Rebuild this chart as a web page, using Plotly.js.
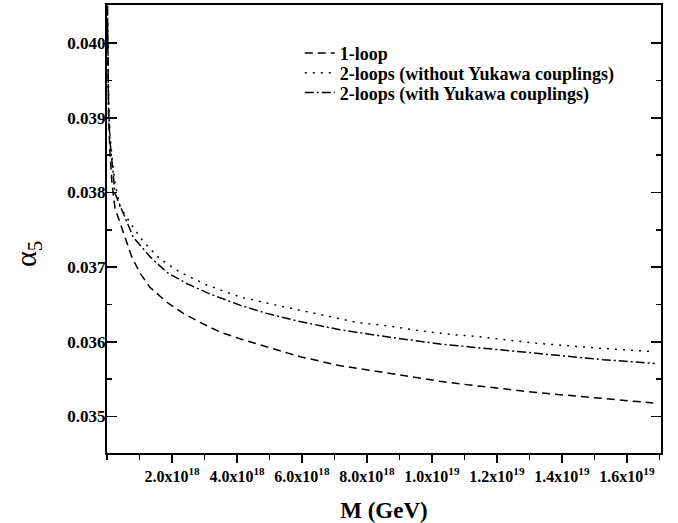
<!DOCTYPE html>
<html>
<head>
<meta charset="utf-8">
<script src="https://cdn.plot.ly/plotly-3.0.1.min.js"></script>
<style>html,body{margin:0;padding:0;background:#fff;}#chart{width:678px;height:523px;}</style>
</head>
<body>
<div id="chart"></div>
<script>
// M (GeV) values
var mOneLoop = [1.2e16, 2e16, 5e16, 9e16, 1.5e17, 2.46e17, 4.5e17, 7.6e17, 1.015e18, 1.32e18, 1.84e18, 2.35e18, 2.86e18, 3.48e18, 4.09e18, 5.12e18, 5.94e18, 7.17e18, 8.71e18, 1.025e19, 1.117e19, 1.322e19, 1.527e19, 1.681e19];
var aOneLoop = [0.0405, 0.0400, 0.0390, 0.03855, 0.03814, 0.03779, 0.03754, 0.03714, 0.03692, 0.03673, 0.03653, 0.03638, 0.03626, 0.03613, 0.03604, 0.03591, 0.03580, 0.03568, 0.03557, 0.03547, 0.03542, 0.03532, 0.03524, 0.03518];

var mNoYuk = [1.2e16, 2e16, 5e16, 9e16, 1.5e17, 2.5e17, 4.0e17, 7.6e17, 1.12e18, 1.63e18, 2.25e18, 3.07e18, 4.09e18, 5.32e18, 6.66e18, 7.68e18, 8.71e18, 9.73e18, 1.076e19, 1.117e19, 1.322e19, 1.527e19, 1.676e19];
var aNoYuk = [0.0405, 0.0401, 0.0392, 0.0388, 0.03848, 0.03812, 0.03781, 0.03756, 0.03734, 0.03711, 0.03693, 0.03676, 0.03660, 0.03648, 0.03635, 0.03626, 0.03621, 0.03614, 0.03609, 0.03608, 0.03598, 0.03591, 0.03587];

var mYuk = [1.2e16, 2e16, 5e16, 9e16, 1.5e17, 2.46e17, 5.0e17, 8.1e17, 1.32e18, 1.84e18, 2.45e18, 3.17e18, 4.09e18, 4.91e18, 5.84e18, 7.17e18, 8.71e18, 1.025e19, 1.117e19, 1.322e19, 1.527e19, 1.686e19];
var aYuk = [0.0405, 0.04005, 0.0391, 0.0387, 0.03838, 0.03799, 0.03772, 0.03740, 0.03714, 0.03693, 0.03678, 0.03664, 0.03649, 0.03638, 0.03628, 0.03616, 0.03606, 0.03597, 0.03593, 0.03584, 0.03576, 0.03571];

var seriesNames = ["1-loop", "2-loops (without Yukawa couplings)", "2-loops (with Yukawa couplings)"];
var xTickVals = [2e18, 4e18, 6e18, 8e18, 1e19, 1.2e19, 1.4e19, 1.6e19];
var xTickText = ["2.0x10<sup>18</sup>", "4.0x10<sup>18</sup>", "6.0x10<sup>18</sup>", "8.0x10<sup>18</sup>", "1.0x10<sup>19</sup>", "1.2x10<sup>19</sup>", "1.4x10<sup>19</sup>", "1.6x10<sup>19</sup>"];

var FONT = "Liberation Serif, Times New Roman, serif";
var traces = [
  {x: mOneLoop, y: aOneLoop, name: seriesNames[0], mode: "lines", legend: "legend", line: {color: "#000", width: 1.5, dash: "8px,5px"}},
  {x: mNoYuk, y: aNoYuk, name: seriesNames[1], mode: "lines", legend: "legend2", line: {color: "#000", width: 1.5, dash: "2px,6px"}},
  {x: mYuk, y: aYuk, name: seriesNames[2], mode: "lines", legend: "legend3", line: {color: "#000", width: 1.5, dash: "9px,3px,2px,3px"}}
];

function leg(yc) {
  return {x: 0.348, y: yc, xanchor: "left", yanchor: "middle", bgcolor: "rgba(0,0,0,0)",
          font: {family: FONT, size: 18, weight: "bold", color: "#000"}};
}

var xRange = [0, 1.705e19];
var layout = {
  width: 678, height: 523,
  margin: {l: 107, r: 17, t: 5, b: 70},
  paper_bgcolor: "#fff", plot_bgcolor: "#fff",
  showlegend: true,
  legend: leg(0.892),
  legend2: leg(0.848),
  legend3: leg(0.804),
  xaxis: {
    range: xRange, showgrid: false, zeroline: false,
    showline: true, linecolor: "#000", linewidth: 2, mirror: true,
    ticks: "outside", ticklen: 8, tickwidth: 1.5, tickcolor: "#000",
    tickmode: "array", tickvals: xTickVals, ticktext: xTickText,
    tickfont: {family: FONT, size: 16, weight: "bold", color: "#000"},
    minor: {tickmode: "linear", tick0: 0, dtick: 1e18, ticks: "outside", ticklen: 5, tickwidth: 1.5, tickcolor: "#000", showgrid: false},
    title: {text: "M (GeV)", font: {family: FONT, size: 23, weight: "bold", color: "#000"}, standoff: 18}
  },
  xaxis2: {
    range: xRange, overlaying: "x", side: "top", anchor: "y", matches: "x",
    showgrid: false, zeroline: false, showticklabels: false, showline: false,
    ticks: "inside", ticklen: 8, tickwidth: 1.5, tickcolor: "#000",
    tickmode: "array", tickvals: xTickVals,
    minor: {tickmode: "linear", tick0: 0, dtick: 1e18, ticks: "inside", ticklen: 5, tickwidth: 1.5, tickcolor: "#000", showgrid: false}
  },
  yaxis: {
    range: [0.03451, 0.04051], showgrid: false, zeroline: false,
    showline: true, linecolor: "#000", linewidth: 2, mirror: "ticks",
    ticks: "inside", ticklen: 10, tickwidth: 1.5, tickcolor: "#000",
    dtick: 0.001, tick0: 0.035, tickformat: ".3f",
    ticklabelstandoff: -4,
    tickfont: {family: FONT, size: 17, weight: "bold", color: "#000"},
    minor: {dtick: 0.0005, tick0: 0.035, ticks: "inside", ticklen: 5, tickwidth: 1.5, tickcolor: "#000", showgrid: false}
  },
  annotations: [
    {text: "α<sub>5</sub>", xref: "paper", yref: "paper", x: -0.1426, y: 0.444, xanchor: "center", yanchor: "middle",
     textangle: -90, showarrow: false, font: {family: FONT, size: 30, color: "#000"}}
  ]
};

Plotly.newPlot("chart", traces, layout, {staticPlot: true, displayModeBar: false});
</script>
</body>
</html>
